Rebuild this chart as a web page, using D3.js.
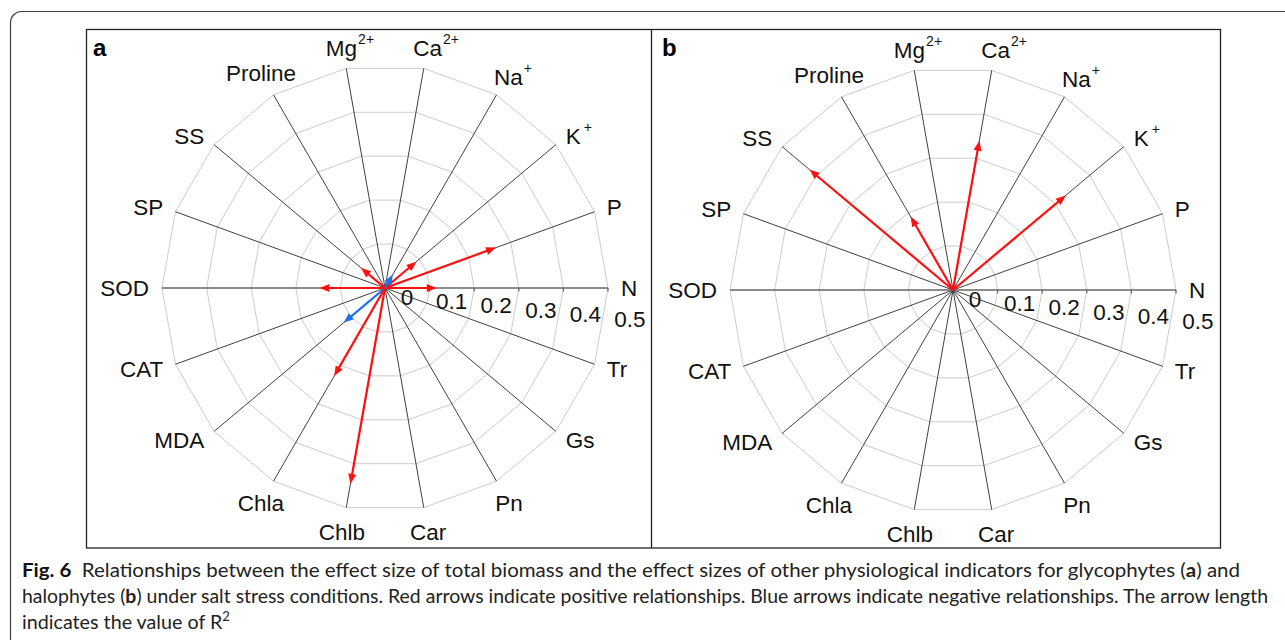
<!DOCTYPE html>
<html>
<head>
<meta charset="utf-8">
<script src="https://cdn.jsdelivr.net/npm/d3@7"></script>
<style>
  body { margin: 0; background: #fff; }
  svg { display: block; }
  .lbl { font-family: "Liberation Sans", Arial, sans-serif; font-size: 22.5px; fill: #111; }
  .cap { font-family: Lato, "Open Sans", sans-serif; font-size: 19.5px; fill: #222; }
</style>
</head>
<body>
<script>
//indicators around the circle, counter-clockwise from N
var indicators = ["N", "P", "K", "Na", "Ca", "Mg", "Proline", "SS", "SP", "SOD", "CAT", "MDA", "Chla", "Chlb", "Car", "Pn", "Gs", "Tr"];
var indicatorSup = ["", "", "+", "+", "2+", "2+", "", "", "", "", "", "", "", "", "", "", "", ""];

//R2 of each relationship, and its sign (1 positive, -1 negative, 0 none)
var glycoR2 = [0.116, 0.265, 0.092, 0.035, 0, 0, 0, 0.07, 0, 0.147, 0, 0.121, 0.228, 0.446, 0, 0, 0, 0];
var glycoSign = [1, 1, 1, -1, 0, 0, 0, 1, 0, 1, 0, -1, 1, 1, 0, 0, 0, 0];
var haloR2 = [0, 0, 0.33, 0, 0.34, 0, 0.19, 0.42, 0, 0, 0, 0, 0, 0, 0, 0, 0, 0];
var haloSign = [0, 0, 1, 0, 1, 0, 1, 1, 0, 0, 0, 0, 0, 0, 0, 0, 0, 0];

var rTicks = [0, 0.1, 0.2, 0.3, 0.4, 0.5];
var panelNames = ["a", "b"];

var width = 1285, height = 640;
var svg = d3.select("body").append("svg")
    .attr("width", width)
    .attr("height", height);

//outer card frame
svg.append("rect")
    .attr("x", 10.5).attr("y", 11.5)
    .attr("width", 1400).attr("height", 800)
    .attr("rx", 11)
    .attr("fill", "none")
    .attr("stroke", "#444")
    .attr("stroke-width", 1.2);

//panel boxes
svg.append("rect")
    .attr("x", 86.5).attr("y", 29.5)
    .attr("width", 1134).attr("height", 518.5)
    .attr("fill", "none")
    .attr("stroke", "#222")
    .attr("stroke-width", 1.3);
svg.append("line")
    .attr("x1", 651.5).attr("x2", 651.5)
    .attr("y1", 29.5).attr("y2", 548)
    .attr("stroke", "#222")
    .attr("stroke-width", 1.3);

var R = 223;
var rScale = d3.scaleLinear().domain([0, 0.5]).range([0, R]);
var aScale = d3.scaleLinear().domain([0, indicators.length]).range([0, 2 * Math.PI]);

var red = "#ff1010", blue = "#1f70ea";

function drawPanel(cx, cy, name, r2, sign) {
    var g = svg.append("g").attr("transform", "translate(" + cx + "," + cy + ")");
    var n = indicators.length;
    function px(i, r) { return r * Math.cos(aScale(i)); }
    function py(i, r) { return -r * Math.sin(aScale(i)); }

    //polygon grid rings
    rTicks.slice(1).forEach(function(t) {
        var pts = d3.range(n).map(function(i) { return [px(i, rScale(t)), py(i, rScale(t))]; });
        g.append("path")
            .attr("d", d3.line().curve(d3.curveLinearClosed)(pts))
            .attr("fill", "none")
            .attr("stroke", "#cccccc")
            .attr("stroke-width", 1);
    });

    //spokes
    g.selectAll(".spoke")
        .data(d3.range(n).filter(function(i) { return i !== 0 && i !== n / 2; }))
        .enter().append("line")
        .attr("class", "spoke")
        .attr("x1", 0).attr("y1", 0)
        .attr("x2", function(i) { return px(i, R); })
        .attr("y2", function(i) { return py(i, R); })
        .attr("stroke", "#2a2a2a")
        .attr("stroke-width", 0.9);

    //horizontal axis with ticks
    g.append("line")
        .attr("x1", -R).attr("x2", R).attr("y1", 0).attr("y2", 0)
        .attr("stroke", "#666")
        .attr("stroke-width", 1.4);
    g.selectAll(".tick")
        .data(rTicks.slice(1))
        .enter().append("line")
        .attr("x1", function(d) { return rScale(d); })
        .attr("x2", function(d) { return rScale(d); })
        .attr("y1", 0).attr("y2", 3.5)
        .attr("stroke", "#666")
        .attr("stroke-width", 1.2);

    //tick labels
    g.selectAll(".rlab")
        .data(rTicks)
        .enter().append("text")
        .attr("class", "lbl")
        .attr("x", function(d) { return rScale(d) + 22; })
        .attr("y", function(d) { return 9 + rScale(d) * 0.1; })
        .attr("text-anchor", "middle")
        .attr("dominant-baseline", "central")
        .text(function(d) { return d === 0 ? "0" : d3.format(".1f")(d); });

    //indicator labels
    indicators.forEach(function(lab, i) {
        var c = Math.cos(aScale(i));
        var anchor = c > 0.6 ? "start" : (c < -0.6 ? "end" : "middle");
        var rr = anchor === "middle" ? R + 25 : R + 13;
        var sup = indicatorSup[i];
        var shift = (sup && anchor === "middle") ? sup.length * 4 : 0;
        var t = g.append("text")
            .attr("class", "lbl")
            .attr("x", px(i, rr) + shift)
            .attr("y", py(i, rr) + (shift ? 4 : 0))
            .attr("text-anchor", anchor)
            .attr("dominant-baseline", "central");
        t.append("tspan").text(lab);
        if (sup) {
            t.append("tspan")
                .attr("dx", lab === "K" ? 3 : 1)
                .attr("dy", -9)
                .attr("font-size", 14)
                .text(sup);
        }
    });

    //arrows
    var idx = d3.range(n).filter(function(i) { return sign[i] !== 0 && r2[i] > 0; });
    idx.forEach(function(i) {
        var col = sign[i] > 0 ? red : blue;
        var a = aScale(i), L = rScale(r2[i]);
        var hl = 10, hw = 4;
        var ux = Math.cos(a), uy = -Math.sin(a);
        var bx = (L - hl) * ux, by = (L - hl) * uy;
        g.append("line")
            .attr("x1", 0).attr("y1", 0)
            .attr("x2", bx + ux * 2).attr("y2", by + uy * 2)
            .attr("stroke", col)
            .attr("stroke-width", 2.2);
        g.append("path")
            .attr("d", "M" + (L * ux) + "," + (L * uy) +
                "L" + (bx - uy * hw) + "," + (by + ux * hw) +
                "L" + (bx + uy * hw) + "," + (by - ux * hw) + "Z")
            .attr("fill", col);
    });

    //panel letter
    svg.append("text")
        .attr("x", cx - (cx < 651 ? 292 : 291))
        .attr("y", 56)
        .attr("font-family", "Liberation Sans, Arial, sans-serif")
        .attr("font-weight", "bold")
        .attr("font-size", 24)
        .text(name);
}

drawPanel(385, 288, panelNames[0], glycoR2, glycoSign);
drawPanel(953, 290, panelNames[1], haloR2, haloSign);

//caption
var l1 = svg.append("text").attr("class", "cap").attr("x", 22).attr("y", 577)
    .attr("textLength", 1218).attr("lengthAdjust", "spacingAndGlyphs");
l1.append("tspan").attr("font-weight", "bold").attr("fill", "#111").text("Fig. 6");
l1.append("tspan").text("\u00a0 Relationships between the effect size of total biomass and the effect sizes of other physiological indicators for glycophytes (");
l1.append("tspan").attr("font-weight", "bold").text("a");
l1.append("tspan").text(") and");

var l2 = svg.append("text").attr("class", "cap").attr("x", 22).attr("y", 603)
    .attr("textLength", 1246).attr("lengthAdjust", "spacingAndGlyphs");
l2.append("tspan").text("halophytes (");
l2.append("tspan").attr("font-weight", "bold").text("b");
l2.append("tspan").text(") under salt stress conditions. Red arrows indicate positive relationships. Blue arrows indicate negative relationships. The arrow length");

var l3 = svg.append("text").attr("class", "cap").attr("x", 22).attr("y", 629)
    .attr("textLength", 208).attr("lengthAdjust", "spacingAndGlyphs");
l3.append("tspan").text("indicates the value of R");
l3.append("tspan").attr("dy", -8).attr("font-size", 13).text("2");
</script>
</body>
</html>
